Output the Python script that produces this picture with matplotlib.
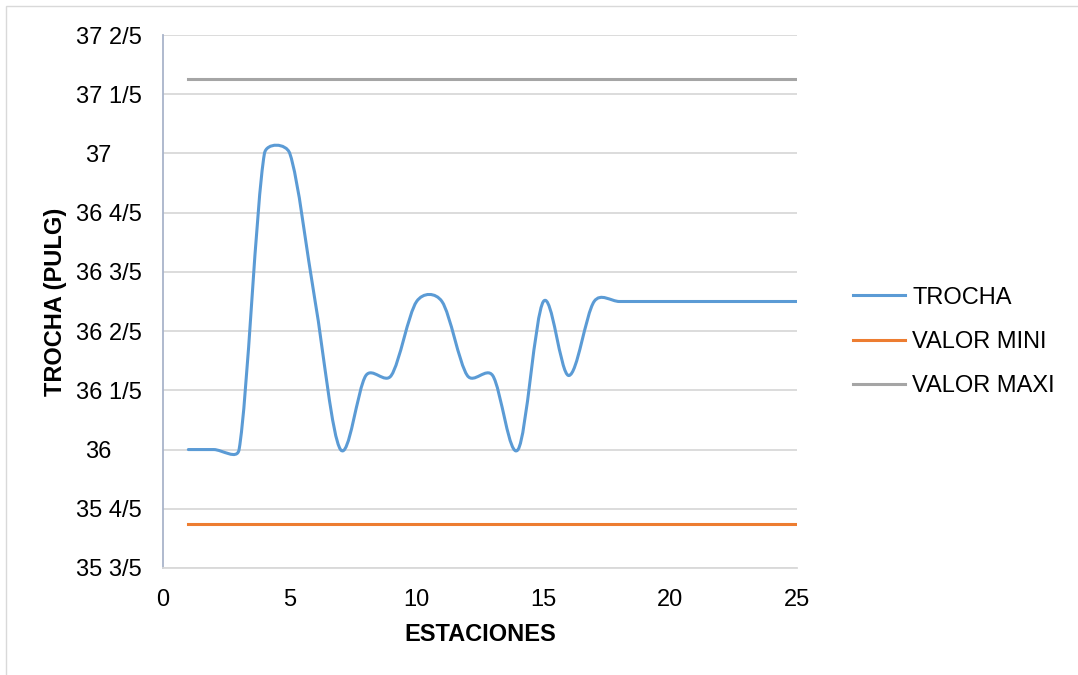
import numpy as np
import matplotlib
matplotlib.use("Agg")
import matplotlib.pyplot as plt
from matplotlib.path import Path
from matplotlib.patches import PathPatch, Rectangle
from matplotlib.lines import Line2D
from matplotlib.ticker import FuncFormatter

# Station numbers and track gauge readings (inches)
estaciones = list(range(1, 26))
trocha = [36, 36, 36, 37, 37, 36.5, 36, 36.25, 36.25, 36.5, 36.5, 36.25, 36.25,
          36, 36.5, 36.25, 36.5, 36.5, 36.5, 36.5, 36.5, 36.5, 36.5, 36.5, 36.5]
valor_mini = [35.75] * 25
valor_maxi = [37.25] * 25

series_names = ["TROCHA", "VALOR MINI", "VALOR MAXI"]
series_colors = ["#5B9BD5", "#ED7D31", "#A5A5A5"]

y_ticks = [35.6, 35.8, 36.0, 36.2, 36.4, 36.6, 36.8, 37.0, 37.2, 37.4]
x_ticks = [0, 5, 10, 15, 20, 25]

plt.rcParams["font.family"] = ["Liberation Sans", "DejaVu Sans"]
FS = 17

W, H = 1078, 675
fig = plt.figure(figsize=(W / 100, H / 100), dpi=100)
ax = fig.add_axes([163 / W, 1 - 568 / H, (797 - 163) / W, (568 - 35) / H])

# light chart-area border
fig.patches.append(Rectangle((6 / W, -0.05), 1.2, 1 - 6 / H + 0.05,
                             transform=fig.transFigure, fill=False,
                             edgecolor="#D9D9D9", linewidth=1.0))

ax.set_xlim(0, 25)
ax.set_ylim(35.6, 37.4)


def fifths(v, pos=None):
    whole = int(np.floor(v + 1e-9))
    frac = int(round((v - whole) * 5))
    if frac == 5:
        whole, frac = whole + 1, 0
    return f"{whole}" if frac == 0 else f"{whole} {frac}/5"


ax.set_yticks(y_ticks)
ax.yaxis.set_major_formatter(FuncFormatter(fifths))
ax.set_xticks(x_ticks)

ax.grid(axis="y", color="#D9D9D9", linewidth=1.3)
ax.set_axisbelow(True)
ax.tick_params(axis="both", length=0, labelsize=FS, colors="#000000")
ax.tick_params(axis="y", pad=15.5)
ax.tick_params(axis="x", pad=15)
for s in ("top", "right"):
    ax.spines[s].set_visible(False)
ax.spines["left"].set_color("#A9B4CA")
ax.spines["left"].set_linewidth(1.3)
ax.spines["bottom"].set_color("#D9D9D9")
ax.spines["bottom"].set_linewidth(1.3)


def smooth_path(ax, xs, ys, k=0.5):
    """Cubic Bezier smoothing computed in display space (spreadsheet style)."""
    pts = ax.transData.transform(np.column_stack([xs, ys]))
    n = len(pts)
    verts = [pts[0]]
    codes = [Path.MOVETO]
    for i in range(n - 1):
        p0 = pts[i - 1] if i > 0 else pts[i]
        p1 = pts[i]
        p2 = pts[i + 1]
        p3 = pts[i + 2] if i + 2 < n else pts[i + 1]
        seg = np.hypot(*(p2 - p1))
        t1 = (p2 - p0) / 6.0
        t2 = (p3 - p1) / 6.0
        for t in (t1, t2):
            L = np.hypot(*t)
            if L > k * seg and L > 0:
                t *= k * seg / L
        verts += [p1 + t1, p2 - t2, p2]
        codes += [Path.CURVE4] * 3
    verts = ax.transData.inverted().transform(np.array(verts))
    return Path(verts, codes)


fig.canvas.draw()
ax.add_patch(PathPatch(smooth_path(ax, estaciones, trocha, k=0.45), fill=False,
                       edgecolor=series_colors[0], linewidth=2.2,
                       capstyle="round", joinstyle="round", zorder=3))
ax.plot(estaciones, valor_mini, color=series_colors[1], linewidth=2.2, zorder=3)
ax.plot(estaciones, valor_maxi, color=series_colors[2], linewidth=2.2, zorder=3)

ax.set_ylabel("TROCHA (PULG)", fontsize=FS, fontweight="bold")
ax.yaxis.set_label_coords((67 - 163) / 634, 0.5)
ax.set_xlabel("ESTACIONES", fontsize=FS, fontweight="bold")
ax.xaxis.set_label_coords(0.5, -0.103)

handles = [Line2D([], [], color=c, linewidth=2.2) for c in series_colors]
fig.legend(handles, series_names, loc="center left",
           bbox_to_anchor=(853 / W, 1 - 342 / H), bbox_transform=fig.transFigure,
           frameon=False, fontsize=FS, handlelength=2.2, handletextpad=0.3,
           labelspacing=0.95, borderpad=0, borderaxespad=0)

# whole-number labels sit further left, leaving room for the empty fraction
for tick in ax.yaxis.get_major_ticks():
    if abs(tick.get_loc() - round(tick.get_loc())) < 1e-6:
        tick.label1.set_x(-30 / 634)

fig.savefig("out.png", dpi=100)
